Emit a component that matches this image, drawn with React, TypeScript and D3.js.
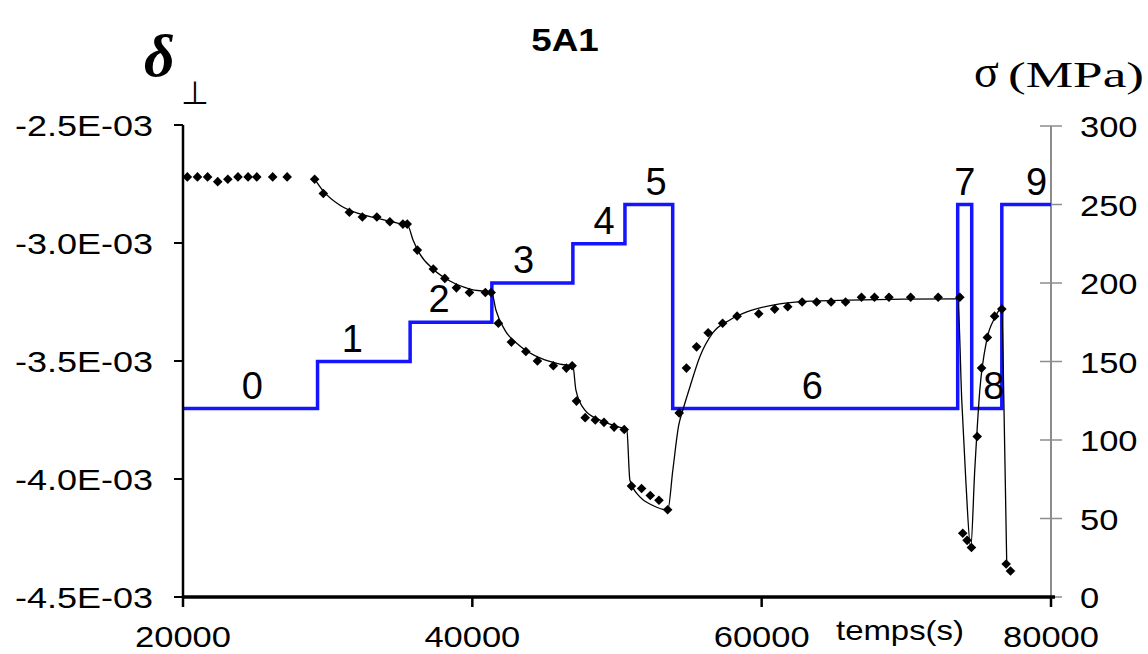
import React from "react";
import * as d3 from "d3";

// ---- data ----
const pointTime = [
  20300, 21000, 21700, 22400, 23100, 23800, 24500, 25100, 26200, 27200,
  29100, 29700, 31500, 32400, 33400, 34300, 35200, 35500,
  36200, 37300, 38100, 38900, 39800, 40900, 41300,
  41800, 42700, 43700, 44500, 45600, 46500, 46900,
  47200, 47800, 48500, 49100, 49800, 50500,
  51000, 51700, 52300, 52900, 53500,
  54300, 54800, 55500, 56300, 57300, 58300, 59800, 60900, 61800, 62800, 63800, 64800, 65800, 66900, 67800, 68800, 70300, 72200, 73700,
  73900, 74200, 74500,
  74900, 75200, 75600, 76100, 76600,
  76900, 77200,
];
const pointDelta = [
  -2.72e-3, -2.72e-3, -2.72e-3, -2.74e-3, -2.73e-3, -2.72e-3, -2.72e-3, -2.72e-3, -2.72e-3, -2.72e-3,
  -2.73e-3, -2.79e-3, -2.87e-3, -2.89e-3, -2.89e-3, -2.91e-3, -2.92e-3, -2.92e-3,
  -3.03e-3, -3.11e-3, -3.15e-3, -3.19e-3, -3.21e-3, -3.21e-3, -3.21e-3,
  -3.34e-3, -3.42e-3, -3.46e-3, -3.5e-3, -3.52e-3, -3.53e-3, -3.52e-3,
  -3.67e-3, -3.74e-3, -3.75e-3, -3.76e-3, -3.78e-3, -3.79e-3,
  -4.03e-3, -4.04e-3, -4.07e-3, -4.09e-3, -4.13e-3,
  -3.72e-3, -3.53e-3, -3.44e-3, -3.38e-3, -3.34e-3, -3.31e-3, -3.3e-3, -3.28e-3, -3.27e-3, -3.25e-3, -3.25e-3, -3.25e-3, -3.25e-3, -3.23e-3, -3.23e-3, -3.23e-3, -3.23e-3, -3.23e-3, -3.23e-3,
  -4.23e-3, -4.26e-3, -4.29e-3,
  -3.82e-3, -3.53e-3, -3.4e-3, -3.31e-3, -3.28e-3,
  -4.36e-3, -4.39e-3,
];

const fitTime = [
  29100, 29700, 30850, 32230, 33610, 35000, 35550, 35900, 36380, 37280, 38450, 39830, 41350,
  41630, 42250, 43290, 44670, 46050, 46950,
  47160, 47780, 48820, 49860, 50680,
  50890, 51580, 52410, 53510,
  53860, 54270, 54550, 55040, 55720, 56620, 57800, 58970, 61250, 63540, 66090, 73560,
  73830, 74110, 74450,
  74730, 75080, 75560, 76110, 76600,
  76740, 76940,
];
const fitDelta = [
  -2.729e-3, -2.78e-3, -2.84e-3, -2.877e-3, -2.898e-3, -2.919e-3, -2.928e-3, -2.987e-3, -3.047e-3, -3.11e-3, -3.161e-3, -3.195e-3, -3.212e-3,
  -3.284e-3, -3.369e-3, -3.436e-3, -3.487e-3, -3.513e-3, -3.521e-3,
  -3.623e-3, -3.708e-3, -3.75e-3, -3.775e-3, -3.792e-3,
  -4.004e-3, -4.076e-3, -4.11e-3, -4.131e-3,
  -3.962e-3, -3.771e-3, -3.708e-3, -3.61e-3, -3.483e-3, -3.381e-3, -3.326e-3, -3.292e-3, -3.258e-3, -3.246e-3, -3.242e-3, -3.237e-3,
  -3.665e-3, -4.004e-3, -4.292e-3,
  -3.962e-3, -3.623e-3, -3.411e-3, -3.318e-3, -3.275e-3,
  -3.665e-3, -4.356e-3,
];

const stepStart = [20000, 29300, 35700, 41350, 46950, 50550, 53850, 73550, 74520, 76600];
const stepStress = [120, 150, 175, 200, 225, 250, 120, 250, 120, 250];
const stepEnd = 80000;
const stepLabels = ["0", "1", "2", "3", "4", "5", "6", "7", "8", "9"];
const stepLabelTime = [24800, 31700, 37700, 43550, 49100, 52700, 63500, 74050, 76050, 79000];

const xTicks = [20000, 40000, 60000, 80000];
const leftTicks = [-2.5e-3, -3.0e-3, -3.5e-3, -4.0e-3, -4.5e-3];
const leftTickLabels = ["-2.5E-03", "-3.0E-03", "-3.5E-03", "-4.0E-03", "-4.5E-03"];
const rightTicks = [0, 50, 100, 150, 200, 250, 300];

export default function App() {
  const X0 = 183, X1 = 1051, YT = 125, YB = 597;
  const x = d3.scaleLinear().domain([20000, 80000]).range([X0, X1]);
  const yL = d3.scaleLinear().domain([-4.5e-3, -2.5e-3]).range([YB, YT]);
  const yR = d3.scaleLinear().domain([0, 300]).range([YB, 126]);

  const stepPts: [number, number][] = stepStart.map((t, i) => [t, stepStress[i]]);
  stepPts.push([stepEnd, stepStress[stepStress.length - 1]]);
  const stepLine = d3
    .line<[number, number]>()
    .x((d) => x(d[0]))
    .y((d) => yR(d[1]))
    .curve(d3.curveStepAfter);

  const fitPts: [number, number][] = fitTime.map((t, i) => [t, fitDelta[i]]);
  const fitLine = d3
    .line<[number, number]>()
    .x((d) => x(d[0]))
    .y((d) => yL(d[1]))
    .curve(d3.curveMonotoneX);

  const r = 4.8;
  const diamond = `M0,${-r}L${r},0L0,${r}L${-r},0Z`;
  const sans = "'Liberation Sans', Arial, sans-serif";
  const serif = "'Liberation Serif', 'Times New Roman', serif";
  const sx = 1.15;

  return (
    <svg
      width={1148}
      height={654}
      style={{ position: "absolute", left: 0, top: 0, background: "#fff" }}
    >
      <rect width={1148} height={654} fill="#fff" />
      {/* title */}
      <text transform={`translate(565,51) scale(${sx},1)`} textAnchor="middle" fontFamily={sans} fontWeight="bold" fontSize={32}>
        5A1
      </text>
      {/* left label */}
      <text x={144} y={76} fontFamily={serif} fontStyle="italic" fontWeight="bold" fontSize={60}>
        δ
      </text>
      <text x={181} y={104} fontFamily={serif} fontSize={32}>
        ⊥
      </text>
      {/* right label */}
      <text x={974} y={87} fontFamily={serif} fontSize={46}>
        σ
      </text>
      <text x={1008} y={87} fontFamily={serif} fontSize={36} textLength={136} lengthAdjust="spacingAndGlyphs">
        (MPa)
      </text>

      {/* right axis (gray) */}
      <line x1={X1} x2={X1} y1={126} y2={YB} stroke="#8c8c8c" strokeWidth={2} />
      {rightTicks.map((v) => (
        <g key={"r" + v}>
          <line x1={X1 - 11} x2={X1 + 11} y1={yR(v)} y2={yR(v)} stroke="#8c8c8c" strokeWidth={1.5} />
          <text transform={`translate(${X1 + 29},${yR(v) + 11}) scale(${sx},1)`} fontFamily={sans} fontSize={30}>
            {v}
          </text>
        </g>
      ))}

      {/* stress steps */}
      <path d={stepLine(stepPts) || ""} fill="none" stroke="#1414ff" strokeWidth={3.5} />
      {stepLabels.map((s, i) => (
        <text key={"s" + i} x={x(stepLabelTime[i])} y={yR(stepStress[i]) - 10} textAnchor="middle" fontFamily={sans} fontSize={38}>
          {s}
        </text>
      ))}

      {/* fit curve */}
      <path d={fitLine(fitPts) || ""} fill="none" stroke="#000" strokeWidth={1.3} />
      {/* points */}
      {pointTime.map((t, i) => (
        <path key={"p" + i} d={diamond} transform={`translate(${x(t)},${yL(pointDelta[i])})`} fill="#000" />
      ))}

      {/* left axis */}
      <line x1={X0} x2={X0} y1={YT} y2={YB} stroke="#000" strokeWidth={2.5} />
      {leftTicks.map((v, i) => (
        <g key={"l" + i}>
          <line x1={X0 - 9} x2={X0} y1={yL(v)} y2={yL(v)} stroke="#000" strokeWidth={2} />
          <text transform={`translate(${X0 - 30},${yL(v) + 11}) scale(1.2,1)`} textAnchor="end" fontFamily={sans} fontSize={30}>
            {leftTickLabels[i]}
          </text>
        </g>
      ))}

      {/* bottom axis */}
      <line x1={X0} x2={X1 + 4} y1={YB} y2={YB} stroke="#000" strokeWidth={3.5} />
      {xTicks.map((v) => (
        <g key={"x" + v}>
          <line x1={x(v)} x2={x(v)} y1={YB} y2={YB + 10} stroke="#000" strokeWidth={2.5} />
          <text transform={`translate(${x(v)},${647}) scale(${sx},1)`} textAnchor="middle" fontFamily={sans} fontSize={30}>
            {v}
          </text>
        </g>
      ))}
      <text x={836} y={640} fontFamily={sans} fontSize={28} textLength={128} lengthAdjust="spacingAndGlyphs">
        temps(s)
      </text>
    </svg>
  );
}
